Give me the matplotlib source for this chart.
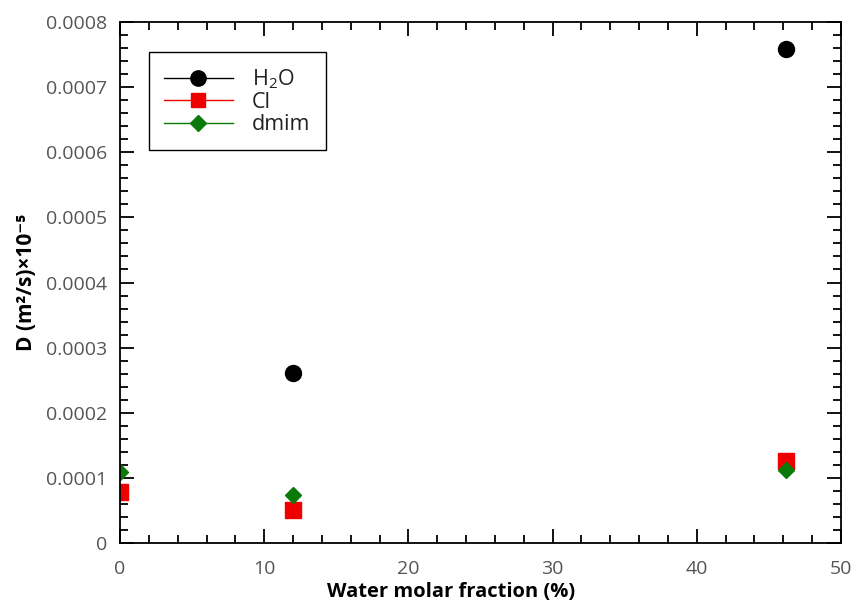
import matplotlib
matplotlib.use("Agg")
import matplotlib.pyplot as plt
from matplotlib.ticker import MultipleLocator
from matplotlib.lines import Line2D

plt.rcParams['font.family'] = ['Open Sans', 'DejaVu Sans']
plt.rcParams['mathtext.fontset'] = 'custom'
plt.rcParams['mathtext.rm'] = 'Open Sans'
plt.rcParams['mathtext.bf'] = 'Open Sans:bold'

h2o_x = [12.0, 46.2]
h2o_y = [0.000261, 0.000758]
cl_x = [0.0, 12.0, 46.2]
cl_y = [0.000078, 0.000050, 0.000126]
dmim_x = [0.0, 12.0, 46.2]
dmim_y = [0.000109, 0.000074, 0.000112]

BLACK = 'black'
RED = '#ee0000'
GREEN = '#0a7a0a'

fig = plt.figure(figsize=(8.54, 6.08), dpi=100)
ax = fig.add_axes([0.1405, 0.1069, 0.8443, 0.8569])

ax.plot(h2o_x, h2o_y, linestyle='none', marker='o', color=BLACK, ms=11.5, label='H$_2$O')
ax.plot(cl_x, cl_y, linestyle='none', marker='s', color=RED, ms=11, label='Cl')
ax.plot(dmim_x, dmim_y, linestyle='none', marker='D', color=GREEN, ms=8.5, label='dmim')

ax.set_xlim(0, 50)
ax.set_ylim(0, 0.0008)
ax.xaxis.set_major_locator(MultipleLocator(10))
ax.xaxis.set_minor_locator(MultipleLocator(2))
ax.yaxis.set_major_locator(MultipleLocator(0.0001))
ax.yaxis.set_minor_locator(MultipleLocator(0.00002))
ax.yaxis.set_major_formatter(plt.FuncFormatter(lambda v, p: '0' if abs(v) < 1e-12 else f'{v:.4f}'))

ax.tick_params(which='both', direction='in', top=True, right=True, width=1.3, colors='black',
               labelcolor='#555555', labelsize=14)
ax.tick_params(which='major', length=10)
ax.tick_params(which='minor', length=6)
ax.tick_params(axis='x', which='major', pad=12)
ax.tick_params(axis='y', which='major', pad=9)
for s in ax.spines.values():
    s.set_linewidth(1.3)

ax.set_xlabel('Water molar fraction (%)', fontsize=14.5, fontweight='bold')
ax.xaxis.set_label_coords(0.459, -0.074)
ax.set_ylabel('D (m²/s)×10⁻⁵', fontsize=15, fontweight='bold', labelpad=7)

handles = [Line2D([], [], color=BLACK, marker='o', ms=11, lw=1),
           Line2D([], [], color=RED, marker='s', ms=10, lw=1),
           Line2D([], [], color=GREEN, marker='D', ms=8, lw=1)]
leg = ax.legend(handles, ['H$_2$O', 'Cl', 'dmim'], loc='upper left', bbox_to_anchor=(0.04, 0.942),
                fontsize=15.5, fancybox=False, edgecolor='black', framealpha=1,
                handlelength=3.2, borderpad=0.7, labelspacing=0.05, handletextpad=0.9,
                borderaxespad=0)
leg.get_frame().set_linewidth(1.0)
for t in leg.get_texts():
    t.set_color('#222222')

fig.savefig('out.png', dpi=100)
